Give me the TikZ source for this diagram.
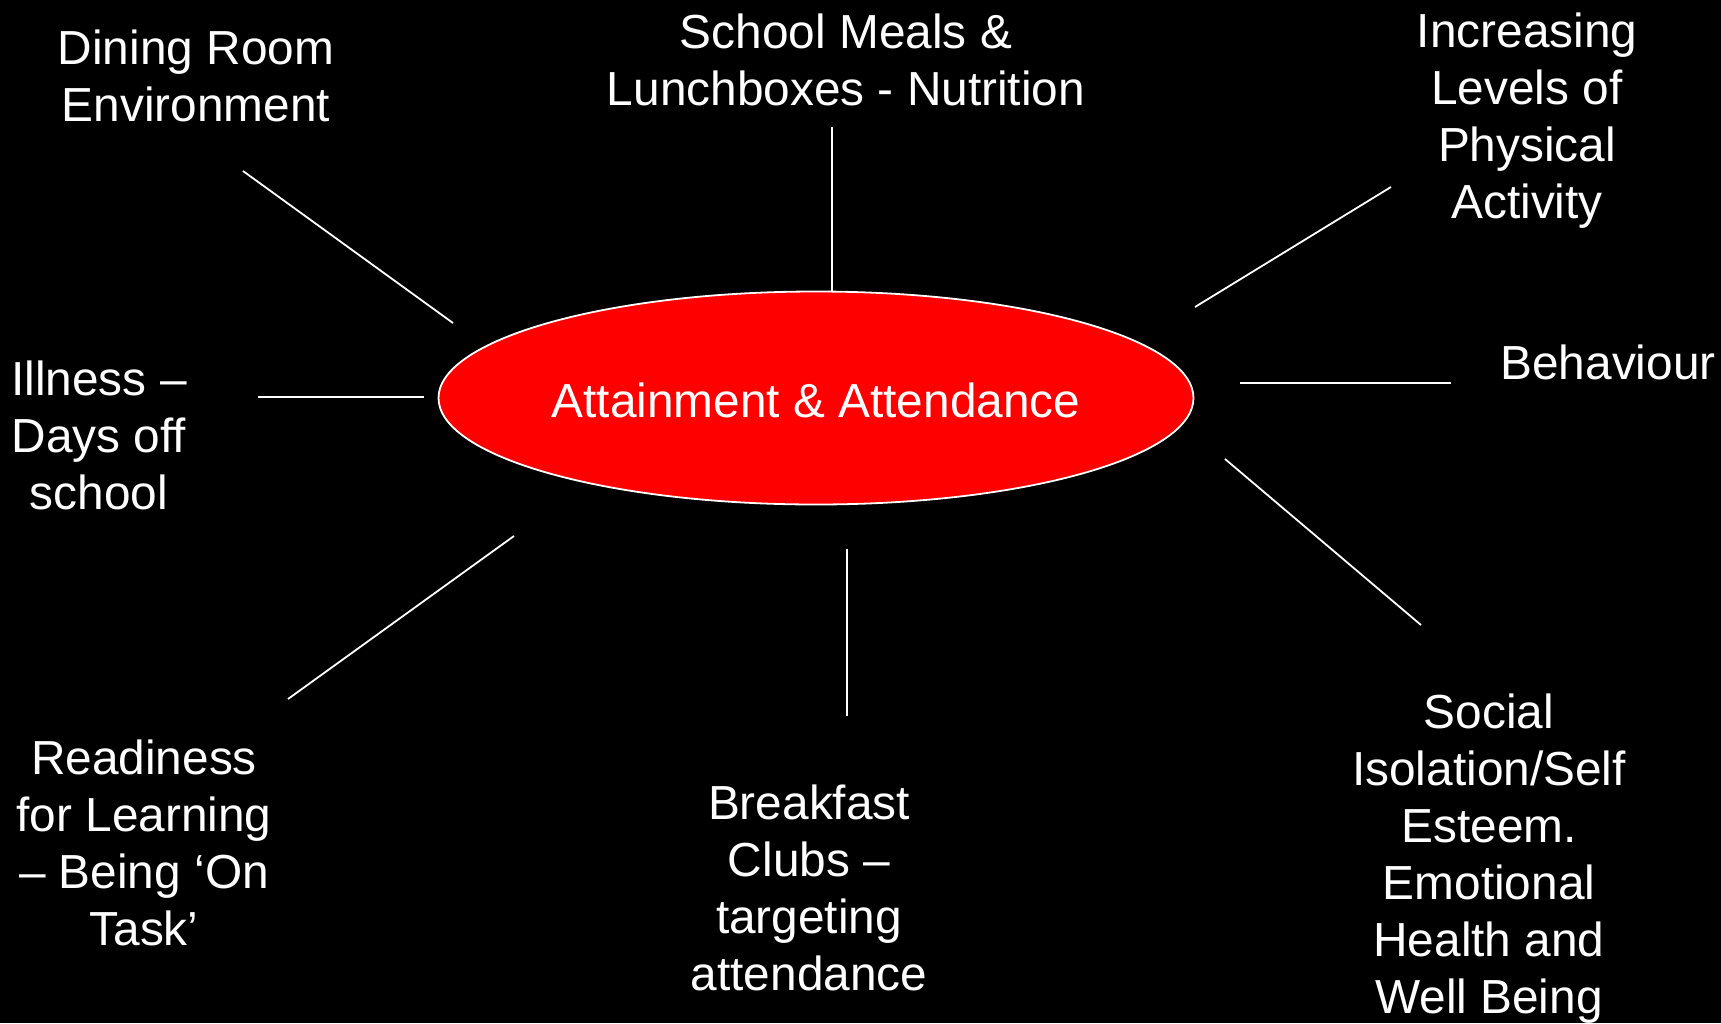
\documentclass[tikz,border=0pt]{standalone}
\usepackage{fontspec}
\setmainfont{Liberation Sans}
\usetikzlibrary{shapes.geometric}
\begin{document}
\begin{tikzpicture}[x=1pt,y=-1pt,
  lbl/.style={text=white,align=center,inner sep=0pt,anchor=base,
    font=\fontsize{47.8}{57}\selectfont},
  spoke/.style={draw=white,line width=1.8pt}]
\fill[black] (0,0) rectangle (1721,1023);
\useasboundingbox (0,0) rectangle (1721,1023);
\node[ellipse,draw=white,line width=1.8pt,fill=red,minimum width=755pt,minimum height=213pt,inner sep=0pt] (hub) at (816,398) {};
\node[lbl] (hubtxt) at (816,417) {Attainment \& Attendance};
\node[lbl] (dining) at (196,121) {Dining Room\\Environment};
\node[lbl] (meals) at (846,105) {School Meals \&\\Lunchboxes - Nutrition};
\node[lbl] (phys) at (1527,218) {Increasing\\Levels of\\Physical\\Activity};
\node[lbl] (behav) at (1608,379) {Behaviour};
\node[lbl] (ill) at (99,509) {Illness --\\Days off\\school};
\node[lbl] (ready) at (144,945) {Readiness\\for Learning\\-- Being `On\\Task'};
\node[lbl] (break) at (809,990) {Breakfast\\Clubs --\\targeting\\attendance};
\node[lbl] (social) at (1489,1013) {Social\\Isolation/Self\\Esteem.\\Emotional\\Health and\\Well Being};
\coordinate (d1) at (243,171); \coordinate (d2) at (453,323);
\coordinate (m1) at (832,127); \coordinate (m2) at (832,292);
\coordinate (p1) at (1391,187); \coordinate (p2) at (1195,307);
\coordinate (b1) at (1451,383); \coordinate (b2) at (1240,383);
\coordinate (s1) at (1421,625); \coordinate (s2) at (1225,459);
\coordinate (k1) at (847,716); \coordinate (k2) at (847,549);
\coordinate (r1) at (288,699); \coordinate (r2) at (514,536);
\coordinate (i1) at (258,397); \coordinate (i2) at (424,397);
\draw[spoke] (d1) -- (d2);
\draw[spoke] (m1) -- (m2);
\draw[spoke] (p1) -- (p2);
\draw[spoke] (b1) -- (b2);
\draw[spoke] (s1) -- (s2);
\draw[spoke] (k1) -- (k2);
\draw[spoke] (r1) -- (r2);
\draw[spoke] (i1) -- (i2);
\end{tikzpicture}
\end{document}
